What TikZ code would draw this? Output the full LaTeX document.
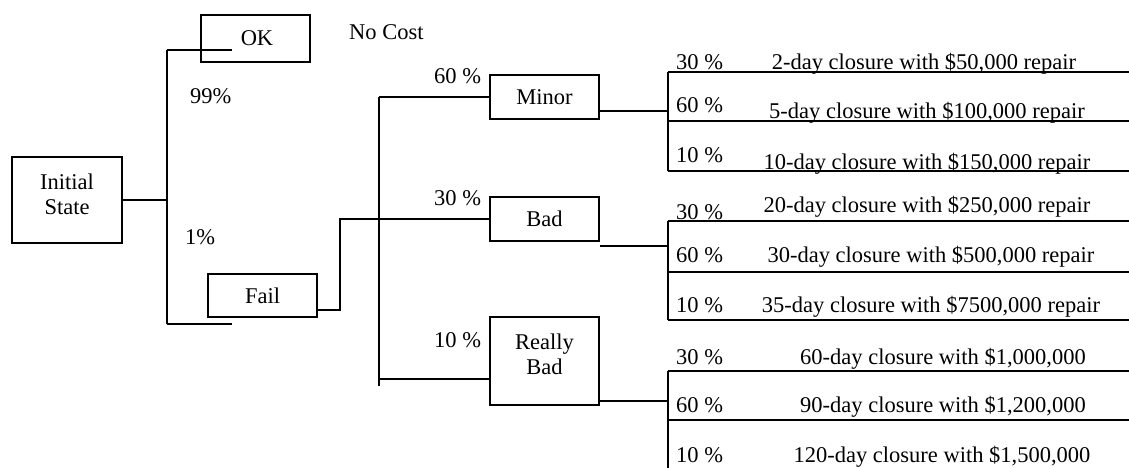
\documentclass[tikz,border=0pt]{standalone}
\usepackage{fontspec}
\setmainfont{Liberation Serif}
\begin{document}
\begin{tikzpicture}[x=1pt,y=-1pt,
  every node/.style={font=\fontsize{22.5}{25.5}\selectfont, inner sep=0pt},
  box/.style={draw, line width=1.5pt, align=center},
  ln/.style={line width=1.5pt},
  lab/.style={anchor=base west},
  outtext/.style={anchor=base}]
\useasboundingbox (0,0) rectangle (1129,468);
% boxes
\node[box, minimum width=110pt, minimum height=86pt, text depth=12pt] (init) at (67,200) {Initial\\State};
\node[box, minimum width=109pt, minimum height=47pt] (ok) at (255.5,38.5) {\hspace*{3pt}OK};
\node[box, minimum width=109pt, minimum height=43pt] (fail) at (262.5,295.5) {Fail};
\node[box, minimum width=109pt, minimum height=44pt] (minor) at (544.5,97) {Minor};
\node[box, minimum width=109pt, minimum height=44pt] (bad) at (544.5,219) {Bad};
\node[box, minimum width=109pt, minimum height=88pt, text depth=14pt] (rbad) at (544.5,361) {Really\\Bad};
% junction coordinates
\coordinate (j0) at (167,200);
\coordinate (jt) at (167,50);
\coordinate (jb) at (167,324);
\coordinate (okend) at (232,50);
\coordinate (failend) at (232,324);
\coordinate (fo) at (340,310);
\coordinate (fu) at (340,219);
\coordinate (kt) at (379,97);
\coordinate (kb) at (379,379);
\coordinate (kend) at (379,386);
\coordinate (m1) at (668,111);
\coordinate (m2) at (668,246);
\coordinate (m3) at (668,401);
% first split
\draw[ln] (init.east) -- (j0);
\draw[ln] (jt) -- (jb);
\draw[ln] (jt) -- (okend);
\draw[ln] (jb) -- (failend);
% fail to second split
\draw[ln] (fail.east |- fo) -- (fo) -- (fu) -- (bad.west);
\draw[ln] (kt) -- (kend);
\draw[ln] (kt) -- (minor.west);
\draw[ln] (kb) -- (rbad.west |- kb);
% outcome branches
\draw[ln] (minor.east |- m1) -- (m1);
\draw[ln] (bad.east |- m2) -- (m2);
\draw[ln] (rbad.east |- m3) -- (m3);
\draw[ln] (668,72) -- (668,171);
\draw[ln] (668,221) -- (668,320);
\draw[ln] (668,371) -- (668,468);
\foreach \yy in {72,121,171,221,272,320,371,420}
  \draw[ln] (668,\yy) -- (1129,\yy);
% labels
\node[lab] (nocost) at (349,40) {No Cost};
\node[lab] (p99) at (190,104) {99\%};
\node[lab] (p1) at (185,244) {1\%};
\node[lab] (pm) at (434,84) {60 \%};
\node[lab] (pb) at (434,205) {30 \%};
\node[lab] (pr) at (434,347) {10 \%};
\node[lab] (a1) at (676,70) {30 \%};
\node[lab] (a2) at (676,113) {60 \%};
\node[lab] (a3) at (676,162) {10 \%};
\node[lab] (b1) at (676,219) {30 \%};
\node[lab] (b2) at (676,262) {60 \%};
\node[lab] (b3) at (676,312) {10 \%};
\node[lab] (c1) at (676,364) {30 \%};
\node[lab] (c2) at (676,412) {60 \%};
\node[lab] (c3) at (676,462) {10 \%};
\node[outtext] (o1) at (924,70) {2-day closure with \$50,000 repair};
\node[outtext] (o2) at (927,119) {5-day closure with \$100,000 repair};
\node[outtext] (o3) at (927,169) {10-day closure with \$150,000 repair};
\node[outtext] (o4) at (927,212) {20-day closure with \$250,000 repair};
\node[outtext] (o5) at (931,262) {30-day closure with \$500,000 repair};
\node[outtext] (o6) at (931,312) {35-day closure with \$7500,000 repair};
\node[outtext] (o7) at (943,364) {60-day closure with \$1,000,000};
\node[outtext] (o8) at (943,412) {90-day closure with \$1,200,000};
\node[outtext] (o9) at (942,462) {120-day closure with \$1,500,000};
\end{tikzpicture}
\end{document}
